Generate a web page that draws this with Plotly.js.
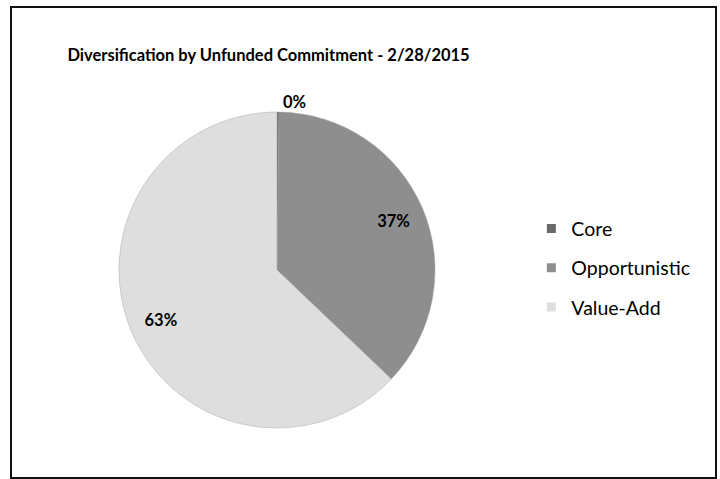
<!DOCTYPE html>
<html>
<head>
<meta charset="utf-8">
<script src="https://cdn.plot.ly/plotly-3.0.1.min.js"></script>
<style>
  html, body { margin: 0; padding: 0; background: #ffffff; }
  #chart { width: 720px; height: 479px; position: absolute; left: 0; top: 0; }
  #frame { position: absolute; left: 10px; top: 6px; width: 703px; height: 469px;
           border: 2px solid #111; pointer-events: none; }
</style>
</head>
<body>
<div id="chart"></div>
<div id="frame"></div>
<script>
// Data
const categories = ["Core", "Opportunistic", "Value-Add"];
const shares = [0.2, 37, 63];            // percent of unfunded commitment (Core rounds to 0%)
const chartTitle = "Diversification by Unfunded Commitment - 2/28/2015";

const sliceColors = ["#6a6a6a", "#8e8e8e", "#dedede"];
const fontFamily = "Lato, 'Open Sans', 'DejaVu Sans', sans-serif";

const pieDomain = { x: [0.1653, 0.6042], y: [0.1065, 0.7662] };

// Filled pie (no text)
const basePie = {
  type: "pie",
  labels: categories,
  values: shares,
  sort: false,
  direction: "clockwise",
  rotation: 0,
  domain: pieDomain,
  marker: { colors: sliceColors, line: { color: "#9a9a9a", width: 0.4 } },
  textinfo: "none",
  hoverinfo: "label+percent",
  showlegend: false
};

// Transparent ring carrying the percentage labels near the rim
const labelRing = {
  type: "pie",
  labels: categories,
  values: shares,
  sort: false,
  direction: "clockwise",
  rotation: 0,
  domain: pieDomain,
  hole: 0.6,
  marker: { colors: ["rgba(0,0,0,0)", "rgba(0,0,0,0)", "rgba(0,0,0,0)"], line: { width: 0 } },
  textinfo: "percent",
  texttemplate: "%{percent:.0%}",
  textposition: ["outside", "inside", "inside"],
  insidetextorientation: "horizontal",
  textfont: { family: fontFamily, size: 16.5, color: "#000000", weight: "bold" },
  outsidetextfont: { family: fontFamily, size: 16.5, color: "#000000", weight: "bold" },
  insidetextfont: { family: fontFamily, size: 16.5, color: "#000000", weight: "bold" },
  hoverinfo: "skip",
  showlegend: false
};

// Legend entries, one per category, so the entry spacing can match the reference
const legendEntries = categories.map((name, i) => ({
  type: "scatter",
  mode: "markers",
  name: name,
  x: [null],
  y: [null],
  legendgroup: "g" + i,
  marker: { symbol: "square", size: 9, color: sliceColors[i] },
  hoverinfo: "skip",
  showlegend: true
}));

const layout = {
  width: 720,
  height: 479,
  margin: { l: 0, r: 0, t: 0, b: 0 },
  paper_bgcolor: "#ffffff",
  plot_bgcolor: "rgba(0,0,0,0)",
  font: { family: fontFamily, color: "#000000" },
  xaxis: { visible: false },
  yaxis: { visible: false },
  title: {
    text: "<b>" + chartTitle + "</b>",
    font: { family: fontFamily, size: 16.5, color: "#000000" },
    x: 0.373, xanchor: "center", xref: "container",
    y: 0.885, yanchor: "middle", yref: "container"
  },
  showlegend: true,
  legend: {
    x: 0.738, xanchor: "left",
    y: 0.44, yanchor: "middle",
    traceorder: "grouped",
    tracegroupgap: 11,
    font: { family: fontFamily, size: 19.5, color: "#000000" },
    bgcolor: "rgba(0,0,0,0)",
    itemclick: false, itemdoubleclick: false
  }
};

Plotly.newPlot("chart", [basePie, labelRing, ...legendEntries], layout, { displayModeBar: false, staticPlot: true });
</script>
</body>
</html>
